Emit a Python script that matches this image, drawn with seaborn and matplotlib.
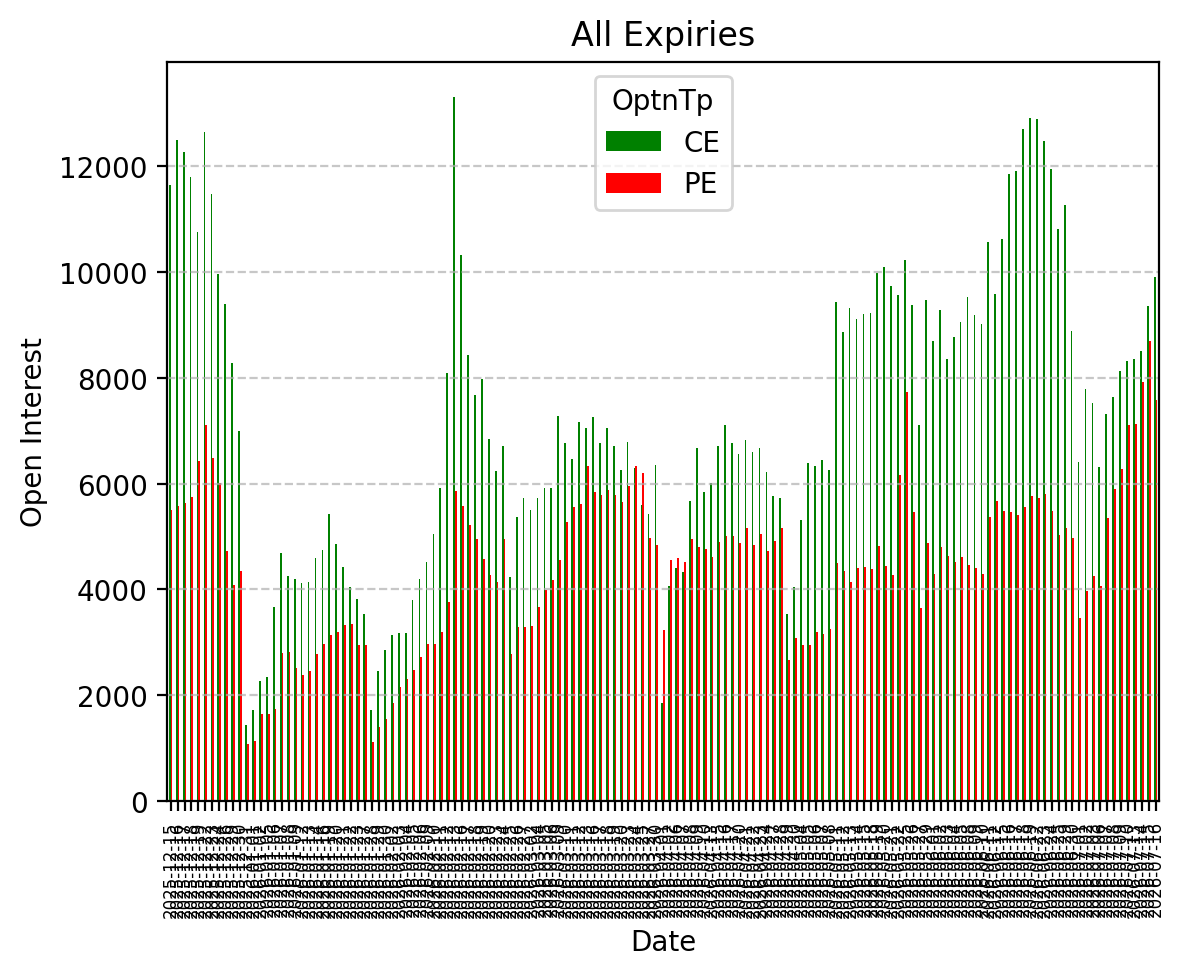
import matplotlib
matplotlib.use("Agg")
import matplotlib.pyplot as plt
import seaborn as sns
import pandas as pd

# Trading dates (weekdays minus exchange holidays)
holidays = ["2025-12-25", "2026-01-15", "2026-01-26", "2026-03-03", "2026-03-26",
            "2026-03-31", "2026-04-03", "2026-04-14", "2026-05-01", "2026-05-28",
            "2026-06-26"]
dates = [d.strftime("%Y-%m-%d") for d in pd.bdate_range("2025-12-15", "2026-07-16")
         if d.strftime("%Y-%m-%d") not in holidays]

ce_oi = [11640, 12500, 12270, 11790, 10750, 12640, 11470, 9960, 9390, 8280,
         7000, 1430, 1710, 2260, 2350, 3660, 4680, 4260, 4190, 4120,
         4140, 4590, 4740, 5420, 4850, 4430, 4040, 3810, 3530, 1710,
         2450, 2850, 3130, 3170, 3170, 3790, 4190, 4510, 5040, 5910,
         8090, 13310, 10320, 8430, 7670, 7970, 6840, 6240, 6720, 4230,
         5370, 5720, 5510, 5720, 5910, 5910, 7280, 6760, 6470, 7160,
         7050, 7260, 6760, 7050, 6710, 6250, 6780, 6290, 5590, 5420,
         6360, 1860, 4070, 4400, 4330, 5680, 6670, 5840, 6010, 6710,
         7100, 6760, 6550, 6820, 6590, 6670, 6220, 5760, 5720, 3530,
         4050, 5320, 6380, 6340, 6440, 6250, 9430, 8860, 9320, 9110,
         9200, 9220, 9980, 10090, 9740, 9570, 10230, 9380, 7100, 9470,
         8700, 9280, 8350, 8770, 9050, 9530, 9190, 9010, 10560, 9580,
         10630, 11860, 11910, 12710, 12910, 12900, 12480, 11950, 10820, 11270,
         8880, 6410, 7780, 7520, 6310, 7310, 7630, 8130, 8320, 8350,
         8510, 9360, 9900]

pe_oi = [5500, 5580, 5630, 5740, 6430, 7100, 6480, 6020, 4720, 4090,
         4340, 1070, 1140, 1640, 1640, 1730, 2790, 2810, 2520, 2390,
         2450, 2770, 2960, 3130, 3200, 3320, 3340, 2940, 2940, 1120,
         1390, 1540, 1850, 2150, 2300, 2470, 2730, 2960, 2960, 3190,
         3770, 5860, 5580, 5210, 4950, 4570, 4280, 4140, 4950, 2770,
         3280, 3280, 3300, 3670, 3990, 4170, 4550, 5270, 5550, 5610,
         6330, 5840, 5780, 5870, 5780, 5650, 5950, 6330, 6200, 4970,
         4830, 3240, 4550, 4590, 4510, 4950, 4800, 4760, 4610, 4890,
         5010, 5010, 4870, 5160, 4830, 5040, 4720, 4920, 5160, 2660,
         3080, 2940, 2940, 3190, 3150, 3260, 4490, 4340, 4140, 4400,
         4420, 4380, 4820, 4440, 4280, 6170, 7730, 5460, 3640, 4870,
         4300, 4800, 4640, 4510, 4610, 4470, 4400, 4300, 5370, 5680,
         5480, 5460, 5400, 5550, 5760, 5720, 5800, 5480, 5020, 5160,
         4970, 3450, 3970, 4260, 4070, 5340, 5890, 6270, 7100, 7120,
         7920, 8700, 7580]

option_types = ["CE", "PE"]
colors = {"CE": "green", "PE": "red"}

df = pd.DataFrame({
    "Date": dates * 2,
    "OptnTp": ["CE"] * len(dates) + ["PE"] * len(dates),
    "Open Interest": ce_oi + pe_oi,
})

fig, ax = plt.subplots(figsize=(6.4, 4.8))
sns.barplot(data=df, x="Date", y="Open Interest", hue="OptnTp",
            hue_order=option_types, palette=colors, width=0.5,
            saturation=1, linewidth=0, errorbar=None, ax=ax)

ax.set_title("All Expiries")
ax.set_xlabel("Date")
ax.set_ylabel("Open Interest")
ax.tick_params(axis="x", labelsize=6, labelrotation=90)
ax.yaxis.grid(True, linestyle="--", alpha=0.7)
ax.xaxis.grid(False)
sns.move_legend(ax, "upper center", title="OptnTp")

fig.savefig("out.png", dpi=200, bbox_inches="tight")
